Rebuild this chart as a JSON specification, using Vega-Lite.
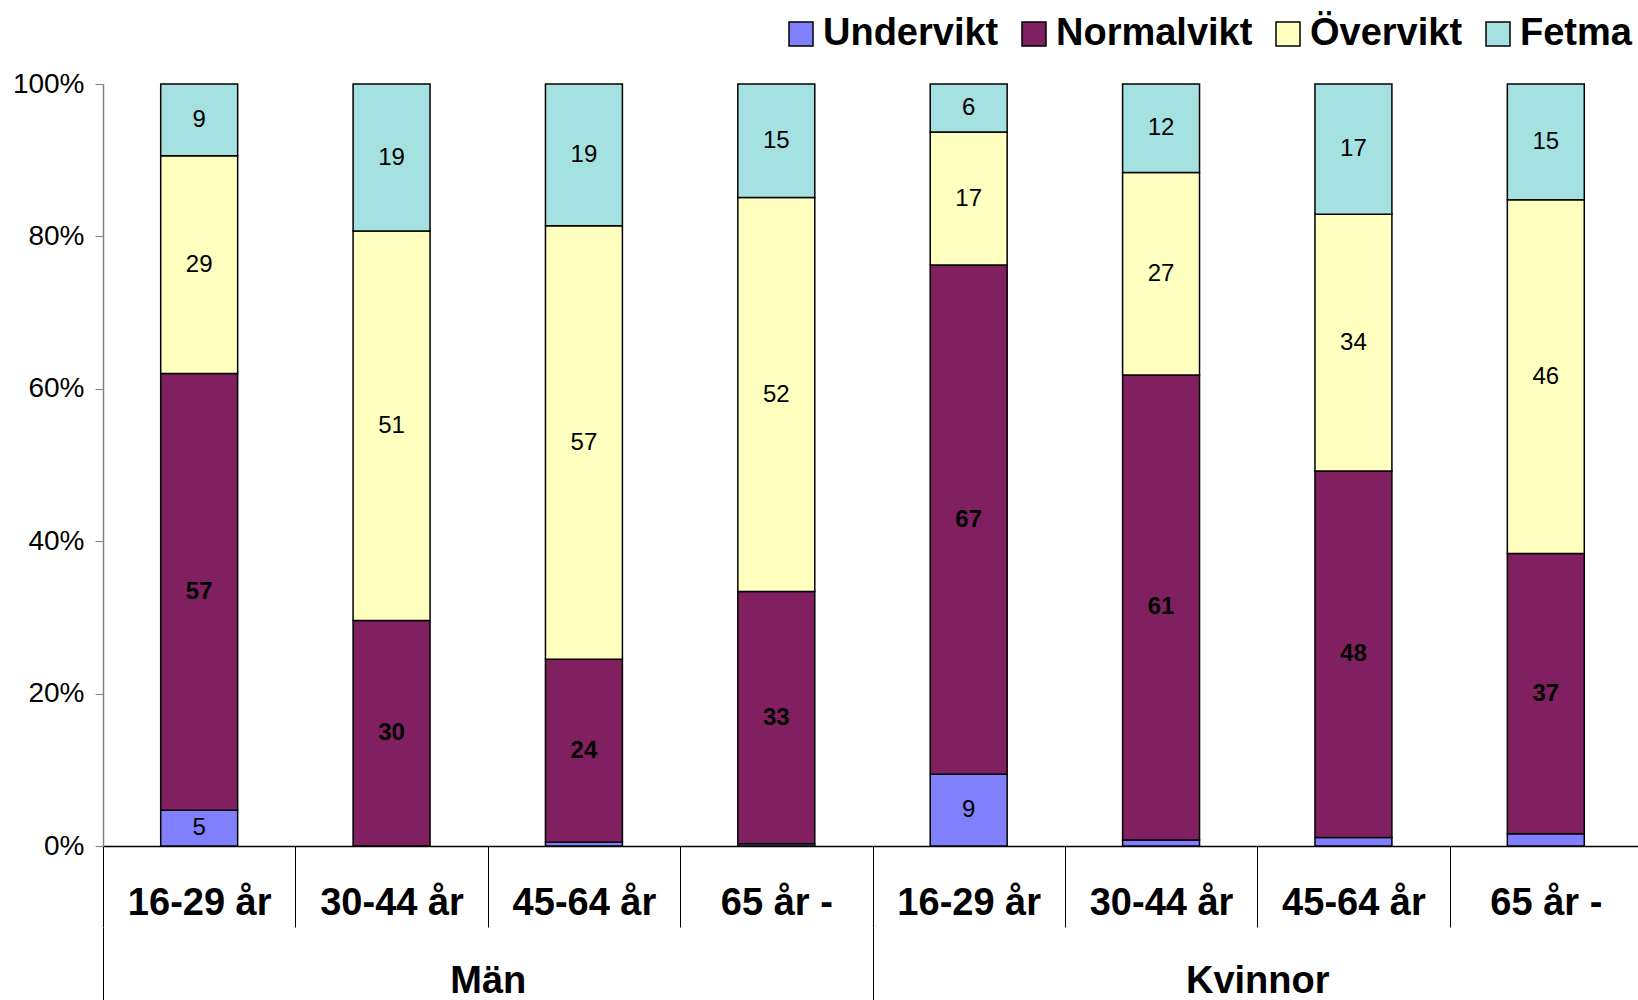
{
  "$schema": "https://vega.github.io/schema/vega-lite/v6.json",
  "width": 1539,
  "height": 762,
  "autosize": {"type": "none"},
  "padding": {"left": 103, "top": 84, "right": 0, "bottom": 154},
  "background": "white",
  "config": {
    "font": "Liberation Sans",
    "view": {"stroke": null}
  },
  "data": {
    "values": [
      {"grupp": "Män", "stapel": "Män|16-29 år", "klass": "Undervikt", "andel": 4.7},
      {"grupp": "Män", "stapel": "Män|16-29 år", "klass": "Normalvikt", "andel": 57.3},
      {"grupp": "Män", "stapel": "Män|16-29 år", "klass": "Övervikt", "andel": 28.6},
      {"grupp": "Män", "stapel": "Män|16-29 år", "klass": "Fetma", "andel": 9.4},
      {"grupp": "Män", "stapel": "Män|30-44 år", "klass": "Undervikt", "andel": 0},
      {"grupp": "Män", "stapel": "Män|30-44 år", "klass": "Normalvikt", "andel": 29.6},
      {"grupp": "Män", "stapel": "Män|30-44 år", "klass": "Övervikt", "andel": 51.1},
      {"grupp": "Män", "stapel": "Män|30-44 år", "klass": "Fetma", "andel": 19.3},
      {"grupp": "Män", "stapel": "Män|45-64 år", "klass": "Undervikt", "andel": 0.5},
      {"grupp": "Män", "stapel": "Män|45-64 år", "klass": "Normalvikt", "andel": 24},
      {"grupp": "Män", "stapel": "Män|45-64 år", "klass": "Övervikt", "andel": 56.9},
      {"grupp": "Män", "stapel": "Män|45-64 år", "klass": "Fetma", "andel": 18.6},
      {"grupp": "Män", "stapel": "Män|65 år -", "klass": "Undervikt", "andel": 0.3},
      {"grupp": "Män", "stapel": "Män|65 år -", "klass": "Normalvikt", "andel": 33.1},
      {"grupp": "Män", "stapel": "Män|65 år -", "klass": "Övervikt", "andel": 51.7},
      {"grupp": "Män", "stapel": "Män|65 år -", "klass": "Fetma", "andel": 14.9},
      {"grupp": "Kvinnor", "stapel": "Kvinnor|16-29 år", "klass": "Undervikt", "andel": 9.4},
      {"grupp": "Kvinnor", "stapel": "Kvinnor|16-29 år", "klass": "Normalvikt", "andel": 66.7},
      {"grupp": "Kvinnor", "stapel": "Kvinnor|16-29 år", "klass": "Övervikt", "andel": 17.4},
      {"grupp": "Kvinnor", "stapel": "Kvinnor|16-29 år", "klass": "Fetma", "andel": 6.3},
      {"grupp": "Kvinnor", "stapel": "Kvinnor|30-44 år", "klass": "Undervikt", "andel": 0.8},
      {"grupp": "Kvinnor", "stapel": "Kvinnor|30-44 år", "klass": "Normalvikt", "andel": 61},
      {"grupp": "Kvinnor", "stapel": "Kvinnor|30-44 år", "klass": "Övervikt", "andel": 26.6},
      {"grupp": "Kvinnor", "stapel": "Kvinnor|30-44 år", "klass": "Fetma", "andel": 11.6},
      {"grupp": "Kvinnor", "stapel": "Kvinnor|45-64 år", "klass": "Undervikt", "andel": 1.1},
      {"grupp": "Kvinnor", "stapel": "Kvinnor|45-64 år", "klass": "Normalvikt", "andel": 48.1},
      {"grupp": "Kvinnor", "stapel": "Kvinnor|45-64 år", "klass": "Övervikt", "andel": 33.7},
      {"grupp": "Kvinnor", "stapel": "Kvinnor|45-64 år", "klass": "Fetma", "andel": 17.1},
      {"grupp": "Kvinnor", "stapel": "Kvinnor|65 år -", "klass": "Undervikt", "andel": 1.6},
      {"grupp": "Kvinnor", "stapel": "Kvinnor|65 år -", "klass": "Normalvikt", "andel": 36.8},
      {"grupp": "Kvinnor", "stapel": "Kvinnor|65 år -", "klass": "Övervikt", "andel": 46.4},
      {"grupp": "Kvinnor", "stapel": "Kvinnor|65 år -", "klass": "Fetma", "andel": 15.2}
    ]
  },
  "transform": [
    {"window": [{"op": "row_number", "as": "ordning"}], "groupby": ["stapel"]}
  ],
  "layer": [
    {
      "encoding": {
        "x": {
          "field": "stapel",
          "type": "nominal",
          "sort": ["Män|16-29 år", "Män|30-44 år", "Män|45-64 år", "Män|65 år -", "Kvinnor|16-29 år", "Kvinnor|30-44 år", "Kvinnor|45-64 år", "Kvinnor|65 år -"],
          "scale": {"paddingInner": 0, "paddingOuter": 0},
          "axis": {
            "title": null,
            "labelExpr": "split(datum.label, '|')[1]",
            "labelAngle": 0,
            "labelFont": "Liberation Sans",
            "labelFontSize": 38,
            "labelFontWeight": "bold",
            "labelColor": "black",
            "labelBaseline": "middle",
            "labelPadding": -24,
            "labelLimit": 400,
            "tickBand": "extent",
            "tickSize": 81,
            "tickColor": "black",
            "tickWidth": 1,
            "domainColor": "black",
            "domainWidth": 1.5
          }
        },
        "y": {
          "field": "andel",
          "type": "quantitative",
          "stack": "normalize",
          "scale": {"domain": [0, 1]},
          "axis": {
            "title": null,
            "values": [0, 0.2, 0.4, 0.6, 0.8, 1],
            "format": ".0%",
            "grid": false,
            "labelFont": "Liberation Sans",
            "labelFontSize": 28,
            "labelColor": "black",
            "labelPadding": 11,
            "tickSize": 8,
            "tickColor": "#808080",
            "domainColor": "#808080",
            "domainWidth": 1.5
          }
        },
        "order": {"field": "ordning", "type": "quantitative", "sort": "ascending"}
      },
      "layer": [
        {
          "mark": {"type": "bar", "stroke": "black", "strokeWidth": 1.5, "width": {"band": 0.4}},
          "encoding": {
            "color": {
              "field": "klass",
              "type": "nominal",
              "scale": {
                "domain": ["Undervikt", "Normalvikt", "Övervikt", "Fetma"],
                "range": ["#8080FF", "#802060", "#FFFFC0", "#A6E1E1"]
              },
              "legend": {
                "title": null,
                "orient": "none",
                "legendX": 679,
                "legendY": -69,
                "direction": "horizontal",
                "columns": 4,
                "gridAlign": "none",
                "symbolType": "square",
                "symbolSize": 576,
                "symbolStrokeColor": "black",
                "symbolStrokeWidth": 1.5,
                "symbolOpacity": 1,
                "labelFont": "Liberation Sans",
                "labelFontSize": 38,
                "labelFontWeight": "bold",
                "labelColor": "black",
                "labelLimit": 400,
                "labelOffset": 3,
                "columnPadding": 16
              }
            }
          }
        },
        {
          "mark": {"type": "text", "font": "Liberation Sans", "fontSize": 24, "fontWeight": "normal", "color": "black", "baseline": "middle", "align": "center"},
          "encoding": {
            "y": {"field": "andel", "type": "quantitative", "stack": "normalize", "bandPosition": 0.5},
            "text": {
              "condition": {"test": "datum.klass !== 'Normalvikt' && datum.andel >= 3", "field": "andel", "type": "quantitative", "format": ".0f"},
              "value": ""
            }
          }
        },
        {
          "mark": {"type": "text", "font": "Liberation Sans", "fontSize": 24, "fontWeight": "bold", "color": "black", "baseline": "middle", "align": "center"},
          "encoding": {
            "y": {"field": "andel", "type": "quantitative", "stack": "normalize", "bandPosition": 0.5},
            "text": {
              "condition": {"test": "datum.klass === 'Normalvikt' && datum.andel >= 3", "field": "andel", "type": "quantitative", "format": ".0f"},
              "value": ""
            }
          }
        }
      ]
    },
    {
      "mark": {"type": "text", "opacity": 0},
      "encoding": {
        "x": {
          "field": "grupp",
          "type": "nominal",
          "sort": ["Män", "Kvinnor"],
          "scale": {"paddingInner": 0, "paddingOuter": 0},
          "axis": {
            "title": null,
            "orient": "bottom",
            "offset": 81,
            "domain": false,
            "labelAngle": 0,
            "labelFont": "Liberation Sans",
            "labelFontSize": 38,
            "labelFontWeight": "bold",
            "labelColor": "black",
            "labelBaseline": "middle",
            "labelPadding": -26,
            "labelLimit": 400,
            "tickBand": "extent",
            "tickSize": 80,
            "tickColor": "black",
            "tickWidth": 1
          }
        },
        "text": {"value": ""}
      }
    }
  ],
  "resolve": {"scale": {"x": "independent"}, "axis": {"x": "independent"}}
}
